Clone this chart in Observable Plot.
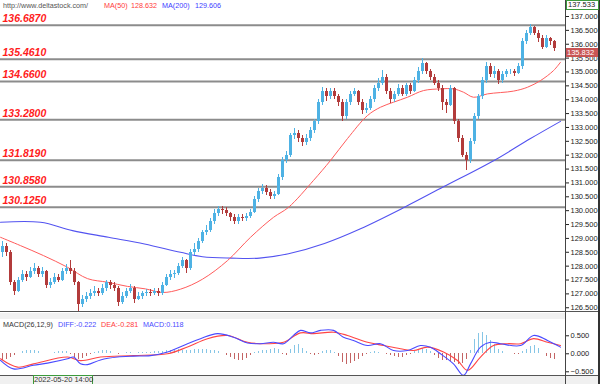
<!DOCTYPE html>
<html><head><meta charset="utf-8">
<script src="https://cdn.jsdelivr.net/npm/d3@7"></script>
<script src="https://cdn.jsdelivr.net/npm/@observablehq/plot@0.6"></script>
<style>
body{margin:0;background:#fff;}
#wrap{position:relative;width:600px;height:384px;overflow:hidden;background:#fff;font-family:"Liberation Sans",Arial,sans-serif;}
.abs{position:absolute;white-space:nowrap;font-size:7.2px;line-height:9px;}
.ln{position:absolute;}
svg{position:absolute;left:0;}
</style></head><body><div id="wrap"></div>
<script>
// ---------- price data (one candle per bar index) ----------
const opens=[128.50,128.70,128.50,127.40,127.10,127.50,127.70,127.60,127.80,127.90,
127.70,127.80,127.30,127.40,127.60,127.50,127.80,127.90,127.80,127.40,
126.60,126.80,126.90,127.00,127.10,127.00,127.20,127.40,127.30,127.20,
126.70,126.90,127.10,127.20,126.80,126.90,127.00,127.05,127.00,127.10,
127.00,127.30,127.60,127.70,127.75,128.00,128.20,127.90,128.50,128.60,
128.90,129.20,129.30,129.60,129.90,130.05,130.00,129.90,129.75,129.60,
129.75,129.70,129.80,129.95,130.40,130.70,130.80,130.65,130.50,130.60,
131.20,131.80,132.00,132.70,132.80,132.60,132.45,132.60,132.90,133.20,
133.90,134.30,134.10,134.30,134.10,133.90,133.40,133.90,134.20,134.30,
133.90,133.60,133.70,134.00,134.40,134.60,134.80,134.30,134.00,134.20,
134.40,134.20,134.50,134.30,134.70,135.00,135.30,135.00,134.80,134.60,
134.40,133.90,133.80,134.40,133.20,132.60,132.00,131.80,132.50,133.40,
134.10,134.70,135.20,134.90,135.00,134.70,134.90,135.00,135.00,134.95,
135.20,136.10,136.40,136.60,136.40,136.20,135.90,136.20,136.10];
const closes=[128.70,128.50,127.40,127.10,127.50,127.70,127.60,127.80,127.90,127.70,
127.80,127.30,127.40,127.60,127.50,127.80,127.90,127.80,127.40,126.60,
126.80,126.90,127.00,127.10,127.00,127.20,127.40,127.30,127.20,126.70,
126.90,127.10,127.20,126.80,126.90,127.00,127.05,127.00,127.10,127.00,
127.30,127.60,127.70,127.75,128.00,128.20,127.90,128.50,128.60,128.90,
129.20,129.30,129.60,129.90,130.05,130.00,129.90,129.75,129.60,129.75,
129.70,129.80,129.95,130.40,130.70,130.80,130.65,130.50,130.60,131.20,
131.80,132.00,132.70,132.80,132.60,132.45,132.60,132.90,133.20,133.90,
134.30,134.10,134.30,134.10,133.90,133.40,133.90,134.20,134.30,133.90,
133.60,133.70,134.00,134.40,134.60,134.80,134.30,134.00,134.20,134.40,
134.20,134.50,134.30,134.70,135.00,135.30,135.00,134.80,134.60,134.40,
133.90,133.80,134.40,133.20,132.60,132.00,131.80,132.50,133.40,134.10,
134.70,135.20,134.90,135.00,134.70,134.90,135.00,135.00,134.95,135.20,
136.10,136.40,136.60,136.40,136.20,135.90,136.20,136.10,135.832];
const highs=[128.90,128.80,128.55,127.50,127.60,127.85,127.80,127.95,128.10,128.00,
127.95,127.85,127.55,127.75,127.70,127.90,128.05,128.20,127.90,127.45,
126.95,127.05,127.15,127.25,127.20,127.35,127.50,127.50,127.40,127.25,
127.05,127.20,127.35,127.25,127.05,127.10,127.15,127.15,127.20,127.20,
127.40,127.70,127.85,127.85,128.10,128.30,128.25,128.60,128.80,129.00,
129.30,129.45,129.70,130.05,130.15,130.15,130.10,129.95,129.85,129.85,
129.85,129.90,130.05,130.50,130.80,130.95,130.90,130.75,130.70,131.30,
131.90,132.15,132.80,132.95,132.90,132.70,132.75,133.00,133.30,134.00,
134.45,134.40,134.40,134.40,134.20,134.00,134.00,134.30,134.40,134.35,
134.00,133.85,134.10,134.50,134.75,135.05,134.90,134.40,134.30,134.55,
134.50,134.60,134.60,134.80,135.15,135.47,135.35,135.10,134.90,134.70,
134.50,134.00,134.50,134.45,133.30,132.70,132.10,132.60,133.50,134.20,
134.80,135.35,135.30,135.20,135.10,135.00,135.10,135.10,135.10,135.30,
136.20,136.50,136.70,136.65,136.50,136.30,136.30,136.25,136.15];
const lows=[128.30,128.35,127.30,126.95,127.05,127.40,127.45,127.55,127.70,127.60,
127.60,127.20,127.20,127.35,127.40,127.45,127.70,127.70,127.30,126.38,
126.50,126.70,126.80,126.90,126.90,126.95,127.10,127.15,127.10,126.55,
126.60,126.85,127.00,126.65,126.75,126.80,126.90,126.90,126.95,126.90,
126.95,127.25,127.50,127.55,127.65,127.90,127.75,127.85,128.40,128.50,
128.80,129.10,129.20,129.50,129.80,129.85,129.80,129.60,129.50,129.50,
129.60,129.60,129.70,129.90,130.30,130.60,130.55,130.40,130.40,130.55,
131.10,131.70,131.90,132.55,132.45,132.30,132.35,132.50,132.80,133.10,
133.80,133.95,134.00,134.00,133.75,133.20,133.30,133.80,134.10,133.80,
133.45,133.50,133.60,133.90,134.30,134.50,134.20,133.85,133.90,134.10,
134.10,134.10,134.20,134.25,134.60,134.90,134.90,134.70,134.50,134.30,
133.60,133.50,133.75,133.10,132.45,131.90,131.44,131.70,132.40,133.30,
134.00,134.60,134.80,134.75,134.55,134.60,134.80,134.90,134.85,134.90,
135.10,136.00,136.30,136.30,136.05,135.80,135.85,135.95,135.75];

// moving averages, read at bar positions
const ma50Idx=[-0.5,4.5,10.25,16.25,21.25,26.25,31.25,35.75,40,44.5,50,56.25,62,67.75,71.5,77.75,82,86.25,91.25,94.5,97.75,101.25,105.25,109.5,112.75,115.25,117.75,121.25,127.75,131.25,134.5,137.75,139.5];
const ma50Val=[129.04,128.74,128.38,127.96,127.55,127.42,127.27,127.18,127.05,127.17,127.53,128.2,129.04,129.76,130.12,131.09,131.81,132.6,133.43,133.73,133.91,134.09,134.33,134.39,134.39,134.27,134.09,134.21,134.31,134.45,134.69,135.05,135.35];
const ma200Idx=[-0.5,9.5,17.5,26.5,35.5,44.5,50,57.25,64.25,71.5,80.5,89.5,100.5,110.25,123,132,139.5];
const ma200Val=[129.58,129.58,129.28,129.04,128.80,128.50,128.34,128.29,128.29,128.45,128.82,129.35,130.125,130.86,131.82,132.6,133.22];

// support / resistance levels
const levels=[136.687,135.461,134.660,133.280,131.819,130.858,130.125];
const priceTicks=[126.5,127,127.5,128,128.5,129,129.5,130,130.5,131,131.5,132,132.5,133,133.5,134,134.5,135,135.5,136,136.5,137];
const topPrice=137.533;

// MACD panel
const diffIdx=[-0.5,2.75,7.75,11.25,16.25,17.75,19.5,21.25,24.5,28.75,32.75,37,41.25,46.25,49.5,53.75,57.75,61.25,64.5,67.75,70.25,72.75,74.5,77,79.5,82.75,85.25,87.75,91.25,94.5,97.75,101.25,104.5,107,109.5,112.75,115.25,117,119.5,122,124.5,129.5,132.75,136.25,139.5];
const diffVal=[-0.185,-0.42,-0.32,-0.26,-0.14,-0.09,-0.28,-0.30,-0.17,-0.09,-0.065,-0.05,0.05,0.28,0.42,0.56,0.46,0.30,0.28,0.32,0.28,0.51,0.65,0.58,0.65,0.65,0.46,0.37,0.23,0.28,0.09,0.09,0.23,0.18,0.0,-0.28,-0.60,-0.28,0.185,0.32,0.28,0.23,0.51,0.37,0.185];
const deaIdx=[-0.5,3.75,7.75,16.25,19.5,24.5,32.75,41.25,46.25,51.25,56.25,61.25,66.25,70.25,74.5,77.75,82.75,86.25,91.25,95.25,99.5,102.75,106.25,110.25,113.75,116.25,119.5,122.75,126.25,129.5,132.75,136.25,139.5];
const deaVal=[-0.14,-0.37,-0.28,-0.09,-0.19,-0.09,-0.05,0.0,0.19,0.42,0.51,0.32,0.28,0.32,0.58,0.56,0.60,0.51,0.32,0.23,0.14,0.09,0.185,0.05,-0.185,-0.46,-0.09,0.23,0.28,0.28,0.42,0.32,0.23];
const hist=[-0.18,-0.15,-0.1,-0.05,0.02,0.06,0.09,0.1,0.08,0.05,
0.02,0.01,0.02,0.04,0.06,0.07,0.05,-0.03,-0.1,-0.15,
-0.12,-0.07,-0.02,0.03,0.07,0.1,0.09,0.06,0.02,-0.02,
0.01,0.03,0.04,0.02,0.03,0.04,0.03,0.04,0.05,0.06,
0.05,0.08,0.1,0.1,0.11,0.1,0.09,0.1,0.11,0.12,
0.11,0.12,0.1,0.08,0.05,0.02,-0.05,-0.1,-0.15,-0.2,
-0.18,-0.12,-0.05,0.03,0.05,0.08,0.1,0.12,0.15,0.12,
-0.03,-0.05,0.12,0.22,0.25,0.15,0.05,-0.03,-0.05,-0.03,
0.05,0.1,0.08,0.03,-0.08,-0.25,-0.3,-0.28,-0.22,-0.15,
-0.07,-0.03,0.04,0.06,0.04,0.01,-0.02,-0.05,-0.08,-0.1,
-0.09,-0.06,-0.02,0.05,0.12,0.15,0.12,0.06,-0.05,-0.12,
-0.18,-0.2,-0.22,-0.25,-0.3,-0.28,-0.15,0.1,0.4,0.55,
0.6,0.5,0.38,0.25,0.12,0.05,0.02,0.0,-0.02,-0.03,
0.05,0.12,0.2,0.22,0.15,0.02,-0.08,-0.14,-0.15];
const macdTicks=[-0.5,0,0.5];

// header values
const ma50Label="128.632", ma200Label="129.606";
const diffLabel="-0.222", deaLabel="-0.281", macdLabel="0.118";
const dateLabel="2022-05-20 14:00";

// ---------- build ----------
const BULL="#4eb2e4", BEAR="#b23b3b";
const bars=closes.map((c,i)=>({i,o:opens[i],h:highs[i],l:lows[i],c,col:c>=opens[i]?BULL:BEAR}));
const ma50=ma50Idx.map((x,k)=>({x,v:ma50Val[k]}));
const ma200=ma200Idx.map((x,k)=>({x,v:ma200Val[k]}));
const diff=diffIdx.map((x,k)=>({x,v:diffVal[k]}));
const dea=deaIdx.map((x,k)=>({x,v:deaVal[k]}));
const hbars=hist.map((v,i)=>({i,v,col:v>=0?"#86c6e6":"#c46464"}));
const xdom=[-0.5,140.75];

const wrap=document.getElementById("wrap");

const main=Plot.plot({
  width:600,height:312,marginTop:0,marginBottom:2,marginLeft:0,marginRight:35,
  style:{background:"transparent",fontFamily:"Liberation Sans, Arial, sans-serif",fontSize:"7.5px",color:"#222"},
  x:{domain:xdom,axis:null},
  y:{domain:[126.401,137.577],axis:"right",ticks:priceTicks,tickFormat:d3.format(".3f"),tickSize:3,tickPadding:2,label:null},
  color:{type:"identity"},
  marks:[
    Plot.ruleY(levels,{stroke:"#8c8c8c",strokeWidth:2}),
    Plot.text(levels,{x:-0.5,y:d=>d,text:d=>d.toFixed(4),textAnchor:"start",lineAnchor:"bottom",dx:2,dy:-3,fill:"#ff1c1c",fontWeight:"bold",fontStyle:"italic",fontSize:10.5}),
    Plot.line(ma200,{x:"x",y:"v",stroke:"#5353f0",strokeWidth:1.1,curve:"catmull-rom"}),
    Plot.line(ma50,{x:"x",y:"v",stroke:"#ff5c5c",strokeWidth:1,curve:"catmull-rom"}),
    Plot.ruleX(bars,{x:"i",y1:"l",y2:"h",stroke:"col",strokeWidth:1,shapeRendering:"crispEdges"}),
    Plot.ruleX(bars,{x:"i",y1:"o",y2:"c",stroke:"col",strokeWidth:3,shapeRendering:"crispEdges"})
  ]
});
main.style.top="0px";
wrap.appendChild(main);

// MACD background band
const band=document.createElement("div");
band.className="ln";band.style.cssText="left:0;top:313px;width:565px;height:6px;background:#f0f0f0;";
wrap.appendChild(band);

const macd=Plot.plot({
  width:600,height:62,marginTop:0,marginBottom:0,marginLeft:0,marginRight:35,
  style:{background:"transparent",fontFamily:"Liberation Sans, Arial, sans-serif",fontSize:"7.5px",color:"#222"},
  x:{domain:xdom,axis:null},
  y:{domain:[-0.603,1.119],axis:"right",ticks:macdTicks,tickFormat:d3.format(".3f"),tickSize:3,tickPadding:2,label:null},
  color:{type:"identity"},
  marks:[
    Plot.ruleX(hbars,{x:"i",y1:0,y2:"v",stroke:"col",strokeWidth:1,shapeRendering:"crispEdges"}),
    Plot.line(dea,{x:"x",y:"v",stroke:"#ff4545",strokeWidth:1.1,curve:"catmull-rom"}),
    Plot.line(diff,{x:"x",y:"v",stroke:"#4a4aff",strokeWidth:1.1,curve:"catmull-rom"})
  ]
});
macd.style.top="313px";
wrap.appendChild(macd);

function line(css){const d=document.createElement("div");d.className="ln";d.style.cssText=css;wrap.appendChild(d);}
line("left:0;top:311px;width:600px;height:1px;background:#555;");
line("left:0;top:375px;width:600px;height:1px;background:#555;");
line("left:0;top:376px;width:598px;height:8px;background:#f0f0f0;");
line("left:565px;top:0;width:1px;height:384px;background:#444;");
line("left:598px;top:0;width:2px;height:384px;background:#333;");

function txt(s,css){const d=document.createElement("div");d.className="abs";d.textContent=s;d.style.cssText+=css;wrap.appendChild(d);return d;}
txt("http://www.deltastock.com/","left:3px;top:1px;color:#555;");
txt("MA(50)","left:104px;top:1px;color:#ff3a3a;");
txt(ma50Label,"left:131px;top:1px;color:#ff3a3a;");
txt("MA(200)","left:162px;top:1px;color:#3c3cff;");
txt(ma200Label,"left:195px;top:1px;color:#3c3cff;");

txt("MACD(26,12,9)","left:3px;top:320px;color:#333;");
txt("DIFF:"+diffLabel,"left:58px;top:320px;color:#4a4aff;");
txt("DEA:"+deaLabel,"left:101px;top:320px;color:#ff3a3a;");
txt("MACD:"+macdLabel,"left:143px;top:320px;color:#4a4aff;");

const ys=main.scale("y");
const yTop=Math.max(0,ys.apply(topPrice)-4.5);
txt(topPrice.toFixed(3),`left:566px;top:${yTop}px;width:30px;height:8px;line-height:8px;border:1px solid #3c9a3c;background:#fff;color:#222;padding-left:1px;font-size:7.5px;`);
const last=closes[closes.length-1];
txt(last.toFixed(3),`left:566px;top:${ys.apply(last)}px;width:31px;height:9px;line-height:9px;background:#c95454;color:#fff;padding-left:1px;font-size:7.5px;`);
txt(dateLabel,"left:33px;top:375px;width:58px;height:8px;line-height:8px;border:1px solid #3c9a3c;background:#f4f4f4;color:#333;text-align:center;font-size:7.5px;");
</script></body></html>
